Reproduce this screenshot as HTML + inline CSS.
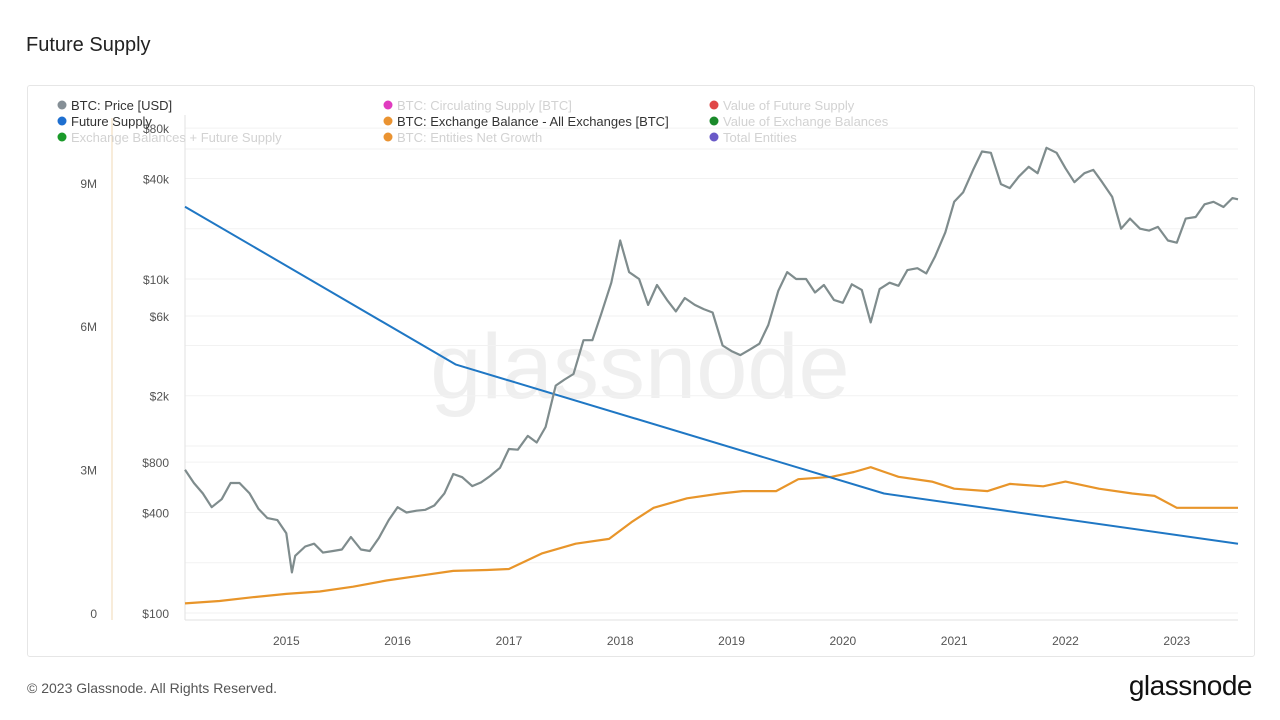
<!DOCTYPE html>
<html><head><meta charset="utf-8">
<style>
body{margin:0;width:1280px;height:720px;background:#fff;font-family:"Liberation Sans",sans-serif;overflow:hidden;position:relative}
.title{position:absolute;left:26px;top:34px;font-size:20px;color:#222}
.card{position:absolute;left:27px;top:85px;width:1226px;height:570px;border:1px solid #e6e6e6;border-radius:3px}
.footer{position:absolute;left:27px;top:680px;font-size:14px;color:#555}
.logo{position:absolute;right:28px;top:670px;font-size:28px;color:#111;letter-spacing:-0.5px}
</style></head><body>
<div class="title">Future Supply</div>
<div class="card"></div>
<svg id="chart" width="1280" height="720" style="position:absolute;left:0;top:0">
<text x="640" y="398" font-size="92" fill="#efefef" text-anchor="middle" font-family="Liberation Sans, sans-serif">glassnode</text>
<g id="grid"></g><g id="axes"></g><g id="series"></g><g id="legend"></g>
</svg>
<div class="footer">© 2023 Glassnode. All Rights Reserved.</div>
<div class="logo">glassnode</div>
<script>
const priceDates=[2014.09,2014.17,2014.25,2014.33,2014.42,2014.5,2014.58,2014.67,2014.75,2014.83,2014.92,2015.0,2015.05,2015.08,2015.17,2015.25,2015.33,2015.42,2015.5,2015.58,2015.67,2015.75,2015.83,2015.92,2016.0,2016.08,2016.17,2016.25,2016.33,2016.42,2016.5,2016.58,2016.67,2016.75,2016.83,2016.92,2017.0,2017.08,2017.17,2017.25,2017.33,2017.42,2017.5,2017.58,2017.67,2017.75,2017.83,2017.92,2018.0,2018.08,2018.17,2018.25,2018.33,2018.42,2018.5,2018.58,2018.67,2018.75,2018.83,2018.92,2019.0,2019.08,2019.17,2019.25,2019.33,2019.42,2019.5,2019.58,2019.67,2019.75,2019.83,2019.92,2020.0,2020.08,2020.17,2020.25,2020.33,2020.42,2020.5,2020.58,2020.67,2020.75,2020.83,2020.92,2021.0,2021.08,2021.17,2021.25,2021.33,2021.42,2021.5,2021.58,2021.67,2021.75,2021.83,2021.92,2022.0,2022.08,2022.17,2022.25,2022.33,2022.42,2022.5,2022.58,2022.67,2022.75,2022.83,2022.92,2023.0,2023.08,2023.17,2023.25,2023.33,2023.42,2023.5,2023.55];
const priceValues=[720,600,520,430,480,600,600,520,420,370,360,300,175,220,250,260,230,235,240,285,240,235,280,360,430,400,410,415,440,520,680,650,575,605,660,740,960,950,1150,1050,1300,2300,2500,2700,4300,4300,6200,9500,17000,11000,10000,7000,9200,7500,6400,7700,7000,6600,6300,4000,3700,3500,3800,4100,5300,8500,11000,10000,10000,8300,9200,7500,7200,9300,8600,5500,8700,9500,9100,11300,11600,10800,13700,19000,29000,33000,45000,58000,57000,37000,35000,41000,47000,43000,61000,57000,46000,38000,43000,45000,38000,31000,20000,23000,20000,19500,20500,17000,16500,23000,23500,28000,29000,27000,30500,30000];
const balDates=[2014.09,2014.4,2014.7,2015.0,2015.3,2015.6,2015.9,2016.2,2016.5,2016.8,2017.0,2017.3,2017.6,2017.9,2018.1,2018.3,2018.6,2018.9,2019.1,2019.4,2019.6,2019.9,2020.1,2020.25,2020.5,2020.8,2021.0,2021.3,2021.5,2021.8,2022.0,2022.3,2022.6,2022.8,2023.0,2023.2,2023.55];
const balValues=[0.2,0.25,0.33,0.4,0.45,0.55,0.68,0.78,0.88,0.9,0.92,1.25,1.45,1.55,1.9,2.2,2.4,2.5,2.55,2.55,2.8,2.85,2.95,3.05,2.85,2.75,2.6,2.55,2.7,2.65,2.75,2.6,2.5,2.45,2.2,2.2,2.2];
const fsDates=[2014.09,2016.52,2020.37,2023.55];
const fsValues=[8.5,5.2,2.5,1.45];
const yearTicks=[2015,2016,2017,2018,2019,2020,2021,2022,2023];
const priceTicks=[100,400,800,2000,6000,10000,40000,80000];
const priceTickLabels=["$100","$400","$800","$2k","$6k","$10k","$40k","$80k"];
const leftTicks=[0,3,6,9];
const leftTickLabels=["0","3M","6M","9M"];

const X0=185,X1=1238;
const xs=t=>X0+(t-2014.09)*(X1-X0)/(2023.55-2014.09);
const yp=v=>613-Math.log10(v/100)*167;
const yl=v=>613-v*47.8;
const NS="http://www.w3.org/2000/svg";
function mk(tag,attrs,parent){const e=document.createElementNS(NS,tag);for(const k in attrs)e.setAttribute(k,attrs[k]);parent.appendChild(e);return e;}
const grid=document.getElementById('grid'),axes=document.getElementById('axes'),series=document.getElementById('series'),legend=document.getElementById('legend');
[100,200,400,800,1000,2000,4000,6000,10000,20000,40000,60000,80000].forEach(v=>{
 const l=mk('line',{x1:X0,x2:X1,y1:yp(v),y2:yp(v),stroke:'#f2f2f2','stroke-width':1},grid);
 
 
});
const pb=mk('line',{x1:X0,x2:X0,y1:115,y2:620,stroke:'#e2e2e2'},axes);

const pbb=mk('line',{x1:X0,x2:X1,y1:620,y2:620,stroke:'#e2e2e2'},axes);

const la=mk('line',{x1:112,x2:112,y1:118,y2:620,stroke:'#f0d9b5'},axes);

yearTicks.forEach(y=>{const t=mk('text',{x:xs(y),y:645,'font-size':12,fill:'#555','text-anchor':'middle'},axes);t.textContent=y;
 });
priceTicks.forEach((v,i)=>{const t=mk('text',{x:169,y:yp(v)+5,'font-size':12,fill:'#555','text-anchor':'end'},axes);t.textContent=priceTickLabels[i];
 });
leftTicks.forEach((v,i)=>{const t=mk('text',{x:97,y:yl(v)+5,'font-size':12,fill:'#555','text-anchor':'end'},axes);t.textContent=leftTickLabels[i];
 });
function path(d,v,fy,color,name,w){const pts=d.map((t,i)=>xs(t).toFixed(1)+','+fy(v[i]).toFixed(1)).join(' ');
 const p=mk('polyline',{points:pts,fill:'none',stroke:color,'stroke-width':w,'stroke-linejoin':'round'},series);
 }
path(balDates,balValues,yl,'#e8952a','exchange-balance-line',2.2);
path(fsDates,fsValues,yl,'#1f77c4','future-supply-line',2);
path(priceDates,priceValues,yp,'#7f8c8d','btc-price-line',2.2);
const legItems=[["BTC: Price [USD]","#858f96",58,105,1],["Future Supply","#1e6fd0",58,121,1],["Exchange Balances + Future Supply","#1a9a2a",58,137,0],
["BTC: Circulating Supply [BTC]","#e03cbf",384,105,0],["BTC: Exchange Balance - All Exchanges [BTC]","#ea9331",384,121,1],["BTC: Entities Net Growth","#ea9331",384,137,0],
["Value of Future Supply","#e04848",710,105,0],["Value of Exchange Balances","#1a8a2a",710,121,0],["Total Entities","#6a5ac8",710,137,0]];
legItems.forEach(it=>{const g=mk('g',{},legend);
 mk('circle',{cx:it[2]+4,cy:it[3],r:4.5,fill:it[1]},g);
 const t=mk('text',{x:it[2]+13,y:it[3]+5,'font-size':13,fill:it[4]?'#333':'#d2d2d2'},g);t.textContent=it[0];});
</script>
</body></html>
